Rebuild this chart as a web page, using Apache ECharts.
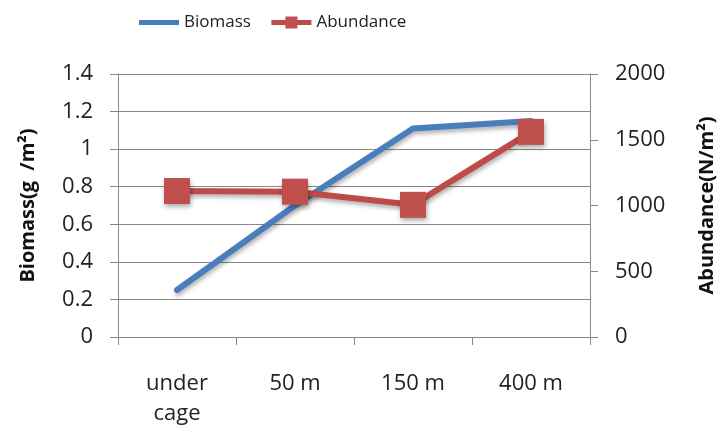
<!DOCTYPE html>
<html>
<head>
<meta charset="utf-8">
<script src="https://cdn.jsdelivr.net/npm/echarts@6/dist/echarts.min.js"></script>
<style>
  html, body { margin: 0; padding: 0; background: #fff; }
  #chart { width: 722px; height: 425px; }
</style>
</head>
<body>
<div id="chart"></div>
<script>
const categories = ["under\ncage", "50 m", "150 m", "400 m"];
const biomass = [0.25, 0.7, 1.11, 1.15];
const abundance = [1110, 1105, 1005, 1560];

const font = "'Open Sans', sans-serif";
const gridColor = "#888888";

const chart = echarts.init(document.getElementById("chart"));

const option = {
  animation: false,
  textStyle: { fontFamily: font },
  legend: {
    top: 9,
    left: 134,
    itemWidth: 40,
    itemHeight: 15,
    itemGap: 18,
    textStyle: { fontSize: 17, color: "#222", fontFamily: font },
    data: [
      { name: "Biomass", icon: "path://M0,0 L40,0 L40,5 L0,5 Z" },
      { name: "Abundance", lineStyle: { width: 5 } },
    ],
  },
  grid: {
    left: 118,
    right: 132,
    top: 74,
    bottom: 88,
    outerBoundsMode: "none",
  },
  xAxis: {
    type: "category",
    data: categories,
    boundaryGap: true,
    axisLine: { lineStyle: { color: gridColor, width: 1 } },
    axisTick: { show: true, length: 8, alignWithLabel: false, lineStyle: { color: gridColor } },
    axisLabel: { fontSize: 22, color: "#222", margin: 32, lineHeight: 30, fontFamily: font },
    splitLine: { show: false },
  },
  yAxis: [
    {
      type: "value",
      min: 0,
      max: 1.4,
      interval: 0.2,
      name: "Biomass(g  /m²)",
      nameLocation: "middle",
      nameGap: 80,
      nameRotate: 90,
      nameTextStyle: { fontSize: 20, fontWeight: "bold", color: "#111", fontFamily: font },
      axisLine: { show: true, lineStyle: { color: gridColor } },
      axisTick: { show: true, length: 8, lineStyle: { color: gridColor } },
      axisLabel: {
        fontSize: 22,
        color: "#222",
        margin: 25,
        fontFamily: font,
        formatter: (v) => String(Math.round(v * 10) / 10),
      },
      splitLine: { show: true, lineStyle: { color: gridColor, width: 1 } },
    },
    {
      type: "value",
      min: 0,
      max: 2000,
      interval: 500,
      name: "Abundance(N/m²)",
      nameLocation: "middle",
      nameGap: 107,
      nameRotate: 90,
      nameTextStyle: { fontSize: 20, fontWeight: "bold", color: "#111", fontFamily: font },
      axisLine: { show: true, lineStyle: { color: gridColor } },
      axisTick: { show: true, length: 8, lineStyle: { color: gridColor } },
      axisLabel: {
        fontSize: 22,
        color: "#222",
        margin: 25,
        fontFamily: font,
        formatter: (v) => String(v),
      },
      splitLine: { show: false },
    },
  ],
  series: [
    {
      name: "Biomass",
      type: "line",
      yAxisIndex: 0,
      data: biomass,
      symbol: "none",
      lineStyle: {
        color: "#4a7ebb",
        width: 6,
        cap: "round",
        shadowColor: "rgba(0,0,0,0.3)",
        shadowBlur: 4,
        shadowOffsetX: 1,
        shadowOffsetY: 3,
      },
      itemStyle: { color: "#4a7ebb" },
    },
    {
      name: "Abundance",
      type: "line",
      yAxisIndex: 1,
      data: abundance,
      symbol: "rect",
      symbolSize: 26,
      lineStyle: {
        color: "#be4b48",
        width: 6,
        shadowColor: "rgba(0,0,0,0.3)",
        shadowBlur: 4,
        shadowOffsetX: 1,
        shadowOffsetY: 3,
      },
      itemStyle: {
        color: "#c0504d",
        shadowColor: "rgba(0,0,0,0.35)",
        shadowBlur: 5,
        shadowOffsetX: 1,
        shadowOffsetY: 3,
      },
      z: 3,
    },
  ],
};

chart.setOption(option);
</script>
</body>
</html>
